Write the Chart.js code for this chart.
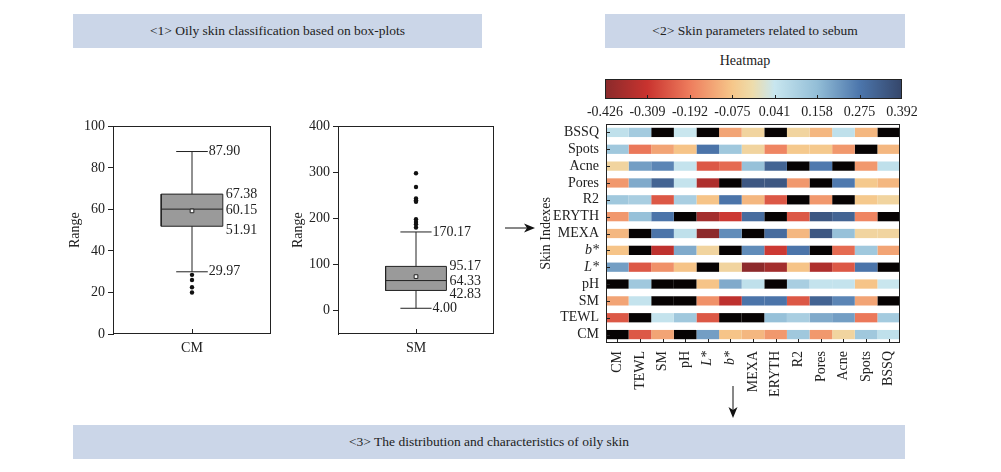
<!DOCTYPE html>
<html>
<head>
<meta charset="utf-8">
<script src="https://cdn.jsdelivr.net/npm/chart.js@4.4.1/dist/chart.umd.min.js"></script>
<style>
  body { margin:0; width:1001px; height:472px; background:#fff; position:relative; overflow:hidden;
         font-family:"Liberation Serif","DejaVu Serif",serif; color:#222; }
  .banner { position:absolute; background:#cbd6e8; text-align:center; font-size:13.5px; height:34px; line-height:34px; }
  .box { position:absolute; }
</style>
</head>
<body>
<div class="banner" style="left:73px;top:14px;width:409px;">&lt;1&gt; Oily skin classification based on box-plots</div>
<div class="banner" style="left:605px;top:14px;width:300px;">&lt;2&gt; Skin parameters related to sebum</div>
<div class="banner" style="left:73px;top:425px;width:832px;">&lt;3&gt; The distribution and characteristics of oily skin</div>
<div style="position:absolute;left:705px;top:53px;width:80px;text-align:center;font-size:14px;">Heatmap</div>

<div class="box" style="left:55px;top:115px;width:240px;height:250px;"><canvas id="boxCM"></canvas></div>
<div class="box" style="left:285px;top:115px;width:240px;height:250px;"><canvas id="boxSM"></canvas></div>
<div class="box" style="left:585px;top:70px;width:345px;height:50px;"><canvas id="colorbar"></canvas></div>
<div class="box" style="left:530px;top:118px;width:380px;height:282px;"><canvas id="heat"></canvas></div>

<svg style="position:absolute;left:0;top:0" width="1001" height="472">
  <line x1="505" y1="228" x2="528" y2="228" stroke="#111" stroke-width="1"/>
  <polygon points="535,228 524,223.5 527,228 524,232.5" fill="#111"/>
  <line x1="733" y1="386" x2="733" y2="410" stroke="#111" stroke-width="1"/>
  <polygon points="733,418 728.5,407 733,410 737.5,407" fill="#111"/>
</svg>

<script>
// box plot data: [lower whisker, Q1, median, Q3, upper whisker]
var cmStats = [29.97, 51.91, 60.15, 67.38, 87.90]
var cmMean = 59.3
var cmOutliers = [28.5, 26, 22.5, 20]
var cmTicks = [0, 20, 40, 60, 80, 100]

var smStats = [4.00, 42.83, 64.33, 95.17, 170.17]
var smMean = 73
var smOutliers = [298, 268, 243, 239, 236, 198, 192, 187, 180]
var smTicks = [0, 100, 200, 300, 400]

// heatmap
var rowLabels = ['BSSQ','Spots','Acne','Pores','R2','ERYTH','MEXA','b*','L*','pH','SM','TEWL','CM']
var colLabels = ['CM','TEWL','SM','pH','L*','b*','MEXA','ERYTH','R2','Pores','Acne','Spots','BSSQ']
var corrMatrix = [
  [ 0.06, 0.12, 1, 0.04, 1, -0.13, -0.04, 1, -0.04, -0.10, 0.06, -0.10, 1],
  [ 0.13, -0.20, -0.13, -0.08, 0.28, 0.13, -0.04, -0.18, -0.07, -0.07, -0.15, 1, -0.10],
  [-0.04, 0.21, 0.25, 0.05, -0.25, -0.22, 0.15, 0.32, 1, 0.27, 1, -0.15, 0.06],
  [-0.15, 0.19, 0.32, 0.05, -0.36, 1, 0.35, 0.35, -0.15, 1, 0.27, -0.07, -0.10],
  [ 0.13, 0.11, -0.25, 0.11, -0.08, 0.28, -0.10, -0.25, 1, -0.15, 1, -0.07, -0.04],
  [-0.15, 0.15, 0.28, 1, -0.38, -0.30, 0.30, 1, -0.25, 0.35, 0.32, -0.18, 1],
  [-0.10, 1, 0.28, 0.06, -0.42, 0.24, 1, 0.30, -0.10, 0.35, 0.15, -0.04, -0.04],
  [-0.08, 1, -0.33, 0.19, -0.04, 1, 0.24, -0.30, 0.28, 1, -0.22, 0.13, -0.13],
  [ 0.21, -0.25, -0.16, -0.08, 1, -0.04, -0.42, -0.38, -0.08, -0.36, -0.25, 0.28, 1],
  [ 1, 0.13, 1, 1, -0.08, 0.19, 0.06, 1, 0.11, 0.05, 0.05, -0.08, 0.04],
  [-0.13, 0.05, 1, 1, -0.16, -0.33, 0.28, 0.28, -0.25, 0.32, 0.25, -0.13, 1],
  [-0.25, 1, 0.05, 0.13, -0.25, 1, 1, 0.15, 0.11, 0.19, 0.21, -0.20, 0.12],
  [ 1, -0.25, -0.13, 1, 0.21, -0.08, -0.10, -0.15, 0.13, -0.15, -0.04, 0.13, 0.06]
]
var colorbarTicks = [-0.426, -0.309, -0.192, -0.075, 0.041, 0.158, 0.275, 0.392]

var serif = '"Liberation Serif","DejaVu Serif",serif'
Chart.defaults.font.family = serif
Chart.defaults.font.size = 14
Chart.defaults.color = '#222'

var colorStops = [
  [-0.426, '#8a2a2b'], [-0.309, '#c9332f'], [-0.192, '#ee7d5d'], [-0.075, '#f6c78a'],
  [-0.02, '#eedcab'], [0.041, '#c8e6ef'], [0.158, '#93bed7'], [0.275, '#4c76ac'], [0.392, '#35466a']
]

function hexToRgb(h){
  return [parseInt(h.substr(1,2),16), parseInt(h.substr(3,2),16), parseInt(h.substr(5,2),16)]
}
function colorFor(v){
  if (v > 0.392) return '#070303'
  if (v <= colorStops[0][0]) return colorStops[0][1]
  for (var i = 1; i < colorStops.length; i++){
    if (v <= colorStops[i][0]){
      var a = colorStops[i-1], b = colorStops[i]
      var t = (v - a[0]) / (b[0] - a[0])
      var ca = hexToRgb(a[1]), cb = hexToRgb(b[1])
      var c = ca.map(function(x, k){ return Math.round(x + (cb[k] - x) * t) })
      return 'rgb(' + c.join(',') + ')'
    }
  }
  return colorStops[colorStops.length-1][1]
}

// frame around plot area + inward ticks
var framePlugin = {
  id: 'frame',
  afterDraw: function(chart, args, o){
    var ctx = chart.ctx, a = chart.chartArea
    ctx.save()
    ctx.strokeStyle = '#222'
    ctx.lineWidth = 1
    ctx.strokeRect(Math.round(a.left)+0.5, Math.round(a.top)+0.5, Math.round(a.width)-1, Math.round(a.height)-1)
    var len = o.len || 4
    if (o.innerX){
      var x = chart.scales.x
      x.ticks.forEach(function(t){
        if (o.skipEnds && (t.value <= x.min || t.value >= x.max)) return
        var px = Math.round(x.getPixelForValue(t.value)) + 0.5
        ctx.beginPath(); ctx.moveTo(px, a.bottom); ctx.lineTo(px, a.bottom - len); ctx.stroke()
      })
    }
    if (o.innerY){
      var y = chart.scales.y
      y.ticks.forEach(function(t, i){
        var py = Math.round(y.getPixelForTick(i)) + 0.5
        ctx.beginPath(); ctx.moveTo(a.left, py); ctx.lineTo(a.left + len, py); ctx.stroke()
      })
    }
    ctx.restore()
  }
}

// value labels beside the box plot
var boxLabelPlugin = {
  id: 'boxLabels',
  afterDatasetsDraw: function(chart, args, o){
    if (!o.stats) return
    var ctx = chart.ctx, x = chart.scales.x, y = chart.scales.y, s = o.stats
    ctx.save()
    ctx.fillStyle = '#222'
    ctx.font = '14px ' + serif
    ctx.textBaseline = 'middle'
    ctx.textAlign = 'left'
    var capX = x.getPixelForValue(1.2) + 1
    var boxX = x.getPixelForValue(1.39) + 3
    ctx.fillText(s[4].toFixed(2), capX, y.getPixelForValue(s[4]))
    ctx.fillText(s[3].toFixed(2), boxX, y.getPixelForValue(s[3]))
    ctx.fillText(s[2].toFixed(2), boxX, y.getPixelForValue(s[2]) + 1)
    ctx.fillText(s[1].toFixed(2), boxX, y.getPixelForValue(s[1]) + 4)
    ctx.fillText(s[0].toFixed(2), capX, y.getPixelForValue(s[0]))
    ctx.restore()
  }
}

function seg(data){
  return { type: 'line', data: data, borderColor: '#222', borderWidth: 1, pointRadius: 0, fill: false, order: 1 }
}

function boxChart(id, name, stats, mean, outliers, yMin, yMax, yTicks, yWidth, padRight, titlePad){
  var lo = stats[0], q1 = stats[1], med = stats[2], q3 = stats[3], hi = stats[4]
  new Chart(document.getElementById(id), {
    type: 'line',
    data: {
      datasets: [
        { data: [{x:0.61, y:q3}, {x:1.39, y:q3}], fill: {value: q1}, backgroundColor: '#9a9a9a',
          borderWidth: 0, pointRadius: 0, order: 5 },
        seg([{x:0.61,y:q1},{x:1.39,y:q1},{x:1.39,y:q3},{x:0.61,y:q3},{x:0.61,y:q1}]),
        seg([{x:0.61,y:med},{x:1.39,y:med}]),
        seg([{x:1,y:q3},{x:1,y:hi}]),
        seg([{x:1,y:lo},{x:1,y:q1}]),
        seg([{x:0.8,y:hi},{x:1.2,y:hi}]),
        seg([{x:0.8,y:lo},{x:1.2,y:lo}]),
        { type: 'scatter', data: outliers.map(function(v){ return {x:1, y:v} }),
          pointRadius: 2.2, backgroundColor: '#111', borderWidth: 0, order: 0 },
        { type: 'scatter', data: [{x:1, y:mean}], pointStyle: 'rect', pointRadius: 2.6,
          backgroundColor: '#fff', borderColor: '#222', borderWidth: 1, order: 0 }
      ]
    },
    options: {
      responsive: true,
      maintainAspectRatio: false,
      animation: false,
      layout: { padding: { top: 10, right: padRight, left: 0, bottom: 0 } },
      plugins: {
        legend: { display: false },
        tooltip: { enabled: false },
        frame: { innerX: true, len: 5 },
        boxLabels: { stats: stats }
      },
      scales: {
        x: {
          type: 'linear', min: 0, max: 2,
          afterBuildTicks: function(scale){ scale.ticks = [{value: 1}] },
          afterFit: function(scale){ scale.height = 31 },
          ticks: { callback: function(){ return name }, padding: 6, maxRotation: 0 },
          grid: { display: false, drawTicks: false },
          border: { display: false }
        },
        y: {
          min: yMin, max: yMax,
          afterBuildTicks: function(scale){ scale.ticks = yTicks.map(function(v){ return {value: v} }) },
          afterFit: function(scale){ scale.width = yWidth },
          title: { display: true, text: 'Range', padding: { top: titlePad, bottom: 0 } },
          ticks: { padding: 3 },
          grid: { drawOnChartArea: false, tickLength: 5, color: '#222' },
          border: { display: true, color: '#222' }
        }
      }
    },
    plugins: [framePlugin, boxLabelPlugin]
  })
}

boxChart('boxCM', 'CM', cmStats, cmMean, cmOutliers, 0, 100, cmTicks, 58, 24, 12)
boxChart('boxSM', 'SM', smStats, smMean, smOutliers, -52, 400, smTicks, 53, 31, 5)

// colour bar
new Chart(document.getElementById('colorbar'), {
  type: 'bar',
  data: {
    labels: [''],
    datasets: [{
      data: [[colorbarTicks[0], colorbarTicks[colorbarTicks.length-1]]],
      barPercentage: 1, categoryPercentage: 1, borderWidth: 0,
      backgroundColor: function(c){
        var ch = c.chart, a = ch.chartArea
        if (!a) return '#999'
        var g = ch.ctx.createLinearGradient(a.left, 0, a.right, 0)
        var mn = colorbarTicks[0], mx = colorbarTicks[colorbarTicks.length-1]
        colorStops.forEach(function(s){ g.addColorStop((s[0]-mn)/(mx-mn), s[1]) })
        return g
      }
    }]
  },
  options: {
    indexAxis: 'y',
    responsive: true,
    maintainAspectRatio: false,
    animation: false,
    layout: { padding: { top: 9, left: 20, right: 28, bottom: 0 } },
    plugins: { legend: { display: false }, tooltip: { enabled: false }, frame: { innerX: true, skipEnds: true, len: 4 } },
    scales: {
      x: {
        type: 'linear', min: colorbarTicks[0], max: colorbarTicks[colorbarTicks.length-1],
        afterBuildTicks: function(scale){ scale.ticks = colorbarTicks.map(function(v){ return {value: v} }) },
        afterFit: function(scale){ scale.height = 21; scale.paddingLeft = 0; scale.paddingRight = 0 },
        ticks: { callback: function(v){ return v.toFixed(3) }, padding: 5, maxRotation: 0, autoSkip: false },
        grid: { display: false, drawTicks: false },
        border: { display: false }
      },
      y: { display: false }
    }
  },
  plugins: [framePlugin]
})

// heatmap: each row is a stacked bar of 13 unit cells coloured by value
function tickFont(labels){
  return function(c){
    var lab = labels[c.index] || ''
    return { family: serif, size: 14, style: lab.indexOf('*') >= 0 ? 'italic' : 'normal' }
  }
}

new Chart(document.getElementById('heat'), {
  type: 'bar',
  data: {
    labels: rowLabels,
    datasets: colLabels.map(function(col, j){
      return {
        label: col,
        data: rowLabels.map(function(){ return 1 }),
        backgroundColor: corrMatrix.map(function(row){ return colorFor(row[j]) }),
        barPercentage: 0.55,
        categoryPercentage: 1,
        borderWidth: 0
      }
    })
  },
  options: {
    indexAxis: 'y',
    responsive: true,
    maintainAspectRatio: false,
    animation: false,
    layout: { padding: { top: 6, right: 10, left: 0, bottom: 0 } },
    plugins: { legend: { display: false }, tooltip: { enabled: false }, frame: { innerX: true, innerY: true, len: 4 } },
    scales: {
      x: {
        stacked: true, min: 0, max: colLabels.length,
        afterBuildTicks: function(scale){ scale.ticks = colLabels.map(function(c, i){ return {value: i + 0.5} }) },
        afterFit: function(scale){ scale.height = 57; scale.paddingLeft = 0; scale.paddingRight = 0 },
        ticks: { callback: function(v, i){ return colLabels[i] }, minRotation: 90, maxRotation: 90, padding: 8,
                 autoSkip: false, font: tickFont(colLabels) },
        grid: { display: false, drawTicks: false },
        border: { display: false }
      },
      y: {
        stacked: true,
        afterFit: function(scale){ scale.width = 76; scale.paddingTop = 0; scale.paddingBottom = 0 },
        title: { display: true, text: 'Skin Indexes', padding: { top: 8, bottom: 0 } },
        ticks: { padding: 7, autoSkip: false, font: tickFont(rowLabels) },
        grid: { display: false, drawTicks: false },
        border: { display: false }
      }
    }
  },
  plugins: [framePlugin]
})
</script>
</body>
</html>
